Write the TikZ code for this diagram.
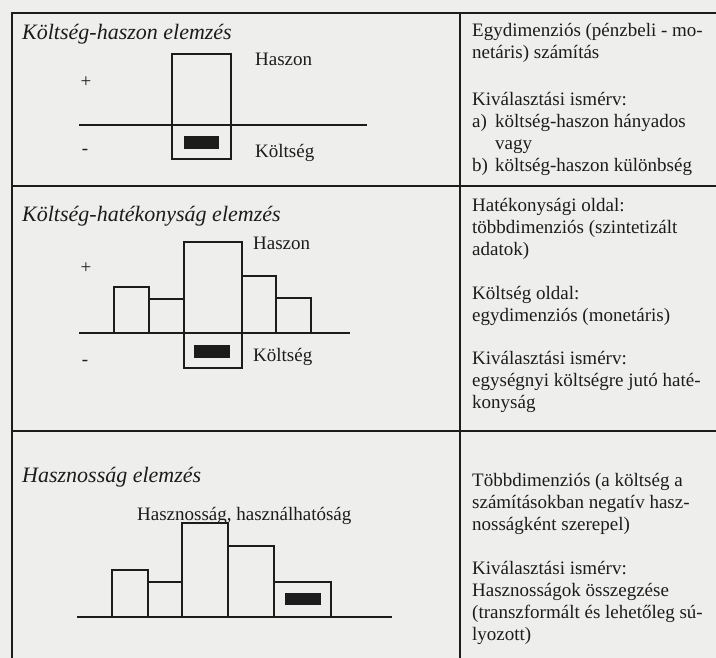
\documentclass[tikz,border=0pt]{standalone}
\usepackage{fontspec}
\setmainfont{Liberation Serif}
\definecolor{paper}{RGB}{238,238,236}
\definecolor{ink}{RGB}{28,28,28}
\begin{document}
\begin{tikzpicture}[x=1pt,y=-1pt,
  rule/.style={draw=ink,line width=1.2pt},
  barbox/.style={draw=ink,line width=1.2pt},
  costbar/.style={fill=ink,draw=none},
  body/.style={anchor=base west,inner sep=0pt,text=ink,font=\fontsize{19}{22}\selectfont},
  heading/.style={anchor=base west,inner sep=0pt,text=ink,font=\fontsize{22}{26}\selectfont\itshape},
  sign/.style={anchor=base,inner sep=0pt,text=ink,font=\fontsize{19}{22}\selectfont}]
\fill[paper] (0,0) rectangle (716,658);
\useasboundingbox (0,0) rectangle (716,658);

% table frame
\coordinate (tl) at (12,13);
\coordinate (tr) at (716,13);
\coordinate (bl) at (12,658);
\coordinate (dt) at (460,13);
\coordinate (db) at (460,658);
\coordinate (h1l) at (12,186);
\coordinate (h1r) at (716,186);
\coordinate (h2l) at (12,431);
\coordinate (h2r) at (716,431);
\draw[rule] (bl) -- (tl) -- (tr);
\draw[rule] (dt) -- (db);
\draw[rule] (h1l) -- (h1r);
\draw[rule] (h2l) -- (h2r);

% ---------- row 1: cost-benefit ----------
\node[heading] (t1) at (22,40) {Költség-haszon elemzés};
\draw[barbox] (172,54) rectangle (231,159);
\fill[costbar] (184,136) rectangle (219,149);
\coordinate (a1l) at (79,125);
\coordinate (a1r) at (367,125);
\draw[rule] (a1l) -- (a1r);
\node[sign] (p1) at (86,88) {+};
\node[sign] (m1) at (85,155) {-};
\node[body] (h1) at (255,66) {Haszon};
\node[body] (k1) at (255,158) {Költség};

\node[body] (r1a) at (472,37) {Egydimenziós (pénzbeli - mo-};
\node[body] (r1b) at (472,59) {netáris) számítás};
\node[body] (r1c) at (472,106) {Kiválasztási ismérv:};
\node[body] (r1d) at (472,128) {a)};
\node[body] (r1e) at (495,128) {költség-haszon hányados};
\node[body] (r1f) at (495,150) {vagy};
\node[body] (r1g) at (472,172) {b)};
\node[body] (r1h) at (495,172) {költség-haszon különbség};

% ---------- row 2: cost-effectiveness ----------
\node[heading] (t2) at (22,222) {Költség-hatékonyság elemzés};
\draw[barbox] (114,287) rectangle (149,333);
\draw[barbox] (149,299) rectangle (184,333);
\draw[barbox] (184,242) rectangle (242,368);
\draw[barbox] (242,276) rectangle (276,333);
\draw[barbox] (276,298) rectangle (311,333);
\fill[costbar] (194,345) rectangle (230,358);
\coordinate (a2l) at (79,333);
\coordinate (a2r) at (350,333);
\draw[rule] (a2l) -- (a2r);
\node[sign] (p2) at (86,273) {+};
\node[sign] (m2) at (85,366) {-};
\node[body] (h2) at (253,250) {Haszon};
\node[body] (k2) at (253,362) {Költség};

\node[body] (r2a) at (472,212) {Hatékonysági oldal:};
\node[body] (r2b) at (472,234) {többdimenziós (szintetizált};
\node[body] (r2c) at (472,256) {adatok)};
\node[body] (r2d) at (472,300) {Költség oldal:};
\node[body] (r2e) at (472,322) {egydimenziós (monetáris)};
\node[body] (r2f) at (472,364) {Kiválasztási ismérv:};
\node[body] (r2g) at (472,386) {egységnyi költségre jutó haté-};
\node[body] (r2h) at (472,408) {konyság};

% ---------- row 3: utility ----------
\node[heading] (t3) at (22,482) {Hasznosság elemzés};
\node[body] (u3) at (137,520) {Hasznosság, használhatóság};
\draw[barbox] (112,570) rectangle (148,617);
\draw[barbox] (148,582) rectangle (182,617);
\draw[barbox] (182,523) rectangle (228,617);
\draw[barbox] (228,546) rectangle (274,617);
\draw[barbox] (274,582) rectangle (331,617);
\fill[costbar] (285,593) rectangle (321,605);
\coordinate (a3l) at (77,617);
\coordinate (a3r) at (392,617);
\draw[rule] (a3l) -- (a3r);

\node[body] (r3a) at (472,486) {Többdimenziós (a költség a};
\node[body] (r3b) at (472,508) {számításokban negatív hasz-};
\node[body] (r3c) at (472,530) {nosságként szerepel)};
\node[body] (r3d) at (472,574) {Kiválasztási ismérv:};
\node[body] (r3e) at (472,596) {Hasznosságok összegzése};
\node[body] (r3f) at (472,618) {(transzformált és lehetőleg sú-};
\node[body] (r3g) at (472,640) {lyozott)};
\end{tikzpicture}
\end{document}
